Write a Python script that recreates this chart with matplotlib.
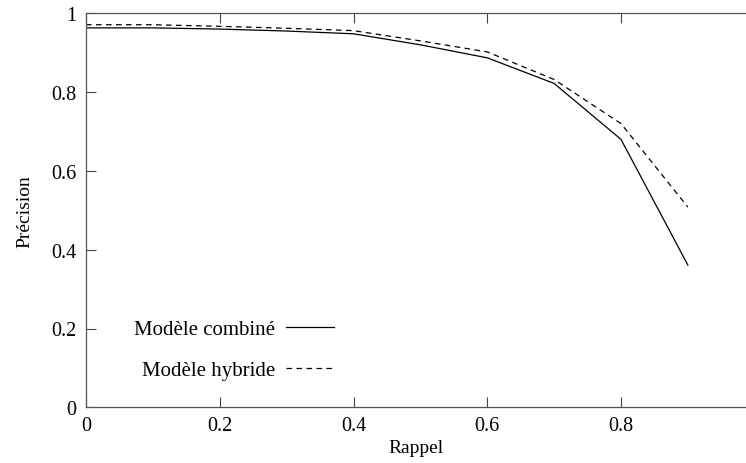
import matplotlib
matplotlib.use("Agg")
import matplotlib.pyplot as plt

rappel = [0.0, 0.1, 0.2, 0.3, 0.4, 0.5, 0.6, 0.7, 0.8, 0.9]
combine = [0.963, 0.963, 0.960, 0.955, 0.948, 0.920, 0.887, 0.822, 0.680, 0.361]
hybride = [0.971, 0.971, 0.967, 0.962, 0.956, 0.930, 0.902, 0.832, 0.720, 0.508]
xticks = [0, 0.2, 0.4, 0.6, 0.8]
yticks = [0, 0.2, 0.4, 0.6, 0.8, 1]

plt.rcParams['font.family'] = ['Liberation Serif', 'DejaVu Serif']
plt.rcParams['font.size'] = 14

fig = plt.figure(figsize=(7.46, 4.64), dpi=100)
ax = fig.add_axes([86/746, (464-408.3)/464, 1 - 86/746, (408.3-14.3)/464])

ax.plot(rappel, combine, color='black', lw=0.9, label='Modèle combiné')
ax.plot(rappel, hybride, color='black', lw=0.9, dashes=(4.5, 3.5), label='Modèle hybride')

ax.set_xlim(0, 660/668.75)
ax.set_ylim(0, 1)
ax.set_xticks(xticks)
ax.set_xticklabels(['0', '0.2', '0.4', '0.6', '0.8'])
ax.set_yticks(yticks)
ax.set_yticklabels(['0', '0.2', '0.4', '0.6', '0.8', '1'])
ax.tick_params(direction='in', length=7, width=0.8, color='#444444', top=True, right=False, labelsize=14.5)
ax.tick_params(axis='x', pad=6)
ax.tick_params(axis='y', pad=7)
for s in ['left', 'bottom', 'top']:
    ax.spines[s].set_color('#555555')
    ax.spines[s].set_linewidth(0.9)
ax.spines['right'].set_visible(False)

ax.set_xlabel('Rappel', fontsize=14, labelpad=3)
ax.set_ylabel('Précision', fontsize=14, labelpad=13)

leg = ax.legend(loc='upper left', bbox_to_anchor=((124-86)/660, (408.3-310)/394),
                frameon=False, markerfirst=False, handlelength=2.3,
                handletextpad=0.5, labelspacing=1.05, fontsize=15, borderpad=0)

fig.savefig('out.png', dpi=100)
